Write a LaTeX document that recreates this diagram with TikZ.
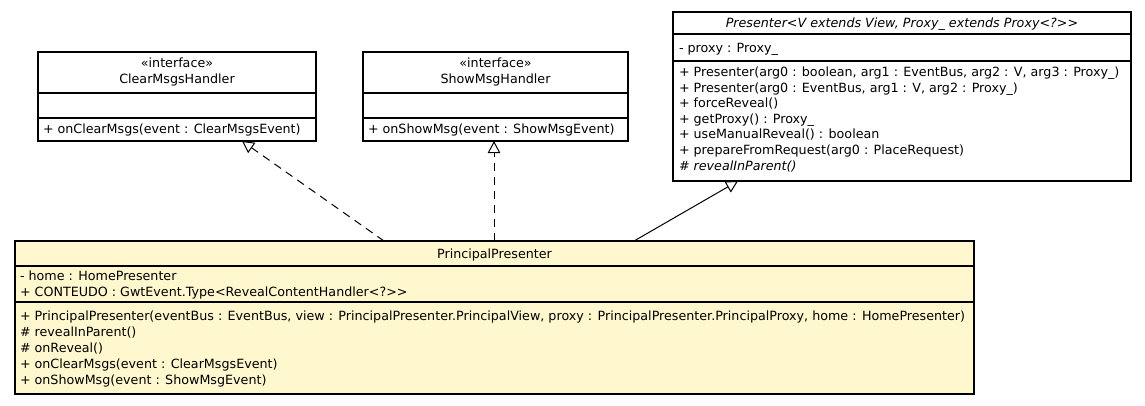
\documentclass[tikz,border=0pt]{standalone}
\usepackage{fontspec}
\setmainfont{DejaVu Sans}
\usetikzlibrary{arrows.meta}
\definecolor{ppfill}{RGB}{255,248,206}
\begin{document}
\begin{tikzpicture}[x=1pt,y=-1pt,
  every node/.style={font=\fontsize{12.7}{16}\selectfont, inner sep=0pt, outer sep=0pt},
  umlbox/.style={draw, line width=1.1pt, rectangle, anchor=north west, inner sep=0pt},
  divider/.style={line width=1.1pt},
  txt/.style={anchor=base west},
  ctxt/.style={anchor=base},
  realize/.style={line width=1pt, dash pattern=on 8pt off 6pt, -{Triangle[open,length=12pt,width=12.5pt,fill=white]}},
  inherit/.style={line width=1pt, -{Triangle[open,length=12pt,width=12.5pt,fill=white]}}]
\useasboundingbox (0,0) rectangle (1145,405);

% ClearMsgsHandler
\node[umlbox, minimum width=278pt, minimum height=89pt] (cm) at (38,52) {};
\draw[divider] ([yshift=-41pt]cm.north west) -- ([yshift=-41pt]cm.north east);
\draw[divider] ([yshift=-66pt]cm.north west) -- ([yshift=-66pt]cm.north east);
\node[ctxt] (cmst) at (177,67) {«interface»};
\node[ctxt] (cmnm) at (177,83.5) {ClearMsgsHandler};
\node[txt] (cmm1) at (43,133) {+ onClearMsgs(event : ClearMsgsEvent)};

% ShowMsgHandler
\node[umlbox, minimum width=265pt, minimum height=89pt] (sm) at (363,52) {};
\draw[divider] ([yshift=-41pt]sm.north west) -- ([yshift=-41pt]sm.north east);
\draw[divider] ([yshift=-66pt]sm.north west) -- ([yshift=-66pt]sm.north east);
\node[ctxt] (smst) at (495.5,67) {«interface»};
\node[ctxt] (smnm) at (495.5,83.5) {ShowMsgHandler};
\node[txt] (smm1) at (368,133) {+ onShowMsg(event : ShowMsgEvent)};

% Presenter
\node[umlbox, minimum width=458pt, minimum height=169pt] (pr) at (673,12) {};
\draw[divider] ([yshift=-22pt]pr.north west) -- ([yshift=-22pt]pr.north east);
\draw[divider] ([yshift=-49pt]pr.north west) -- ([yshift=-49pt]pr.north east);
\node[ctxt, font=\fontsize{12.7}{16}\selectfont\itshape] (prnm) at (902,27.5) {Presenter<V extends View, Proxy\_ extends Proxy<?>\kern0pt>};
\node[txt] (pra1) at (679,52) {- proxy : Proxy\_};
\node[txt] (prm1) at (679,76.5) {+ Presenter(arg0 : boolean, arg1 : EventBus, arg2 : V, arg3 : Proxy\_)};
\node[txt] (prm2) at (679,92.1) {+ Presenter(arg0 : EventBus, arg1 : V, arg2 : Proxy\_)};
\node[txt] (prm3) at (679,107.7) {+ forceReveal()};
\node[txt] (prm4) at (679,123.3) {+ getProxy() : Proxy\_};
\node[txt] (prm5) at (679,138.9) {+ useManualReveal() : boolean};
\node[txt] (prm6) at (679,154.5) {+ prepareFromRequest(arg0 : PlaceRequest)};
\node[txt, font=\fontsize{12.7}{16}\selectfont\itshape] (prm7) at (679,170.1) {\# revealInParent()};

% PrincipalPresenter
\node[umlbox, fill=ppfill, minimum width=959pt, minimum height=153pt] (pp) at (15,241) {};
\draw[divider] ([yshift=-25pt]pp.north west) -- ([yshift=-25pt]pp.north east);
\draw[divider] ([yshift=-61pt]pp.north west) -- ([yshift=-61pt]pp.north east);
\node[ctxt] (ppnm) at (494.5,258) {PrincipalPresenter};
\node[txt] (ppa1) at (20,280) {- home : HomePresenter};
\node[txt] (ppa2) at (20,296) {+ CONTEUDO : GwtEvent.Type<RevealContentHandler<?>\kern0pt>};
\node[txt] (ppm1) at (20,320) {+ PrincipalPresenter(eventBus : EventBus, view : PrincipalPresenter.PrincipalView, proxy : PrincipalPresenter.PrincipalProxy, home : HomePresenter)};
\node[txt] (ppm2) at (20,336) {\# revealInParent()};
\node[txt] (ppm3) at (20,352) {\# onReveal()};
\node[txt] (ppm4) at (20,368) {+ onClearMsgs(event : ClearMsgsEvent)};
\node[txt] (ppm5) at (20,384) {+ onShowMsg(event : ShowMsgEvent)};

% connectors
\draw[realize] ([xshift=369pt]pp.north west) -- ([xshift=204pt]cm.south west);
\draw[realize] ([xshift=479pt]pp.north west) -- ([xshift=131pt]sm.south west);
\draw[inherit] ([xshift=619pt]pp.north west) -- ([xshift=65pt]pr.south west);
\end{tikzpicture}
\end{document}
